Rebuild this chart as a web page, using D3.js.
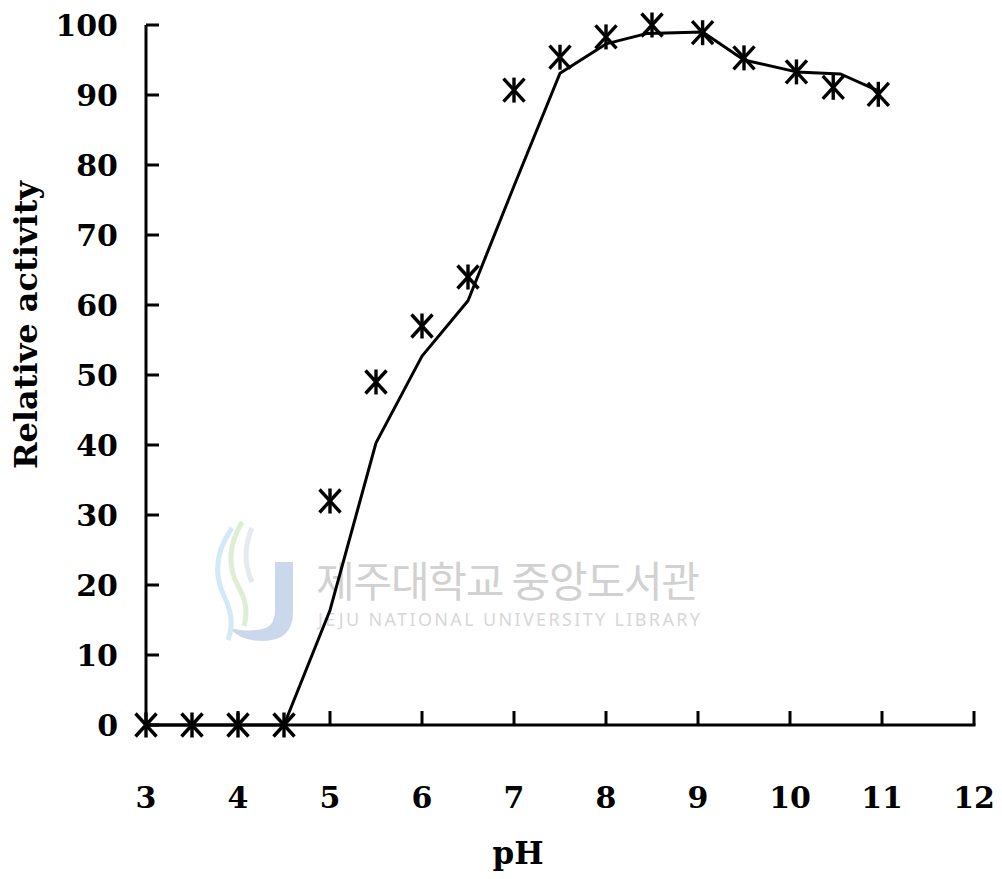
<!DOCTYPE html>
<html><head><meta charset="utf-8">
<script src="https://cdn.jsdelivr.net/npm/d3@7"></script>
<style>body{margin:0;background:#fff}svg{display:block}</style>
</head><body>
<svg id="c" width="1002" height="879"></svg>
<script>
// Data
const pointPH = [3, 3.5, 4, 4.5, 5, 5.5, 6, 6.5, 7, 7.5, 8, 8.5, 9.05, 9.5, 10.07, 10.47, 10.96];
const pointActivity = [0, 0, 0, 0, 32, 49, 57, 64, 90.7, 95.4, 98.3, 100, 98.9, 95.3, 93.3, 91.1, 90.1];
const linePH = [3, 3.5, 4, 4.5, 5, 5.5, 6, 6.5, 7, 7.5, 8, 8.45, 9.05, 9.5, 10.07, 10.55, 10.96];
const lineActivity = [0, 0, 0, 0, 16.4, 40.3, 52.7, 60.6, 77, 93.1, 97.3, 98.8, 99, 95, 93.3, 93, 90.6];
const xTicks = [3, 4, 5, 6, 7, 8, 9, 10, 11, 12];
const yTicks = [0, 10, 20, 30, 40, 50, 60, 70, 80, 90, 100];
const xTitle = "pH";
const yTitle = "Relative activity";

const svg = d3.select("#c");
const x = d3.scaleLinear().domain([3, 12]).range([146, 974]);
const y = d3.scaleLinear().domain([0, 100]).range([725, 25]);
const font = "'DejaVu Serif', serif";

// Watermark
const wm = svg.append("g").attr("opacity", 0.6);
wm.append("path").attr("d", "M275,562 L293,562 L293,612 Q293,641 262,641 Q240,641 230,628 Q250,633 266,628 Q275,624 275,610 Z").attr("fill", "#a9bfe0");
wm.append("path").attr("d", "M232,528 Q208,562 224,596 Q236,620 228,640").attr("fill", "none").attr("stroke", "#b7dcef").attr("stroke-width", 5);
wm.append("path").attr("d", "M242,522 Q222,556 238,586 Q250,606 244,626").attr("fill", "none").attr("stroke", "#c8e3b8").attr("stroke-width", 5);
wm.append("path").attr("d", "M252,528 Q240,556 252,582").attr("fill", "none").attr("stroke", "#d6dbe3").attr("stroke-width", 5);
wm.append("text").attr("x", 316).attr("y", 597).attr("font-family", "'Noto Sans CJK KR', sans-serif").attr("font-size", 42).attr("fill", "#b3b3b3").attr("textLength", 384).text("제주대학교 중앙도서관");
wm.append("text").attr("x", 318).attr("y", 626).attr("font-family", "'Noto Sans', sans-serif").attr("font-size", 18).attr("fill", "#bdbdbd").attr("textLength", 382).text("JEJU NATIONAL UNIVERSITY  LIBRARY");

// Axes
const axisG = svg.append("g").attr("stroke", "#000").attr("stroke-width", 3).attr("fill", "none");
axisG.append("line").attr("x1", x(3)).attr("x2", x(3)).attr("y1", y(100)).attr("y2", y(0));
axisG.append("line").attr("x1", x(3)).attr("x2", x(12)+1.5).attr("y1", y(0)).attr("y2", y(0));
axisG.selectAll(".yt").data(yTicks).enter().append("line")
  .attr("x1", x(3)).attr("x2", x(3) + 13).attr("y1", d => y(d)).attr("y2", d => y(d));
axisG.selectAll(".xt").data(xTicks.filter(d => d > 3)).enter().append("line")
  .attr("x1", d => x(d)).attr("x2", d => x(d)).attr("y1", y(0)).attr("y2", y(0) - 14);

svg.selectAll(".yl").data(yTicks).enter().append("text")
  .attr("x", 118).attr("y", d => y(d) + 11).attr("text-anchor", "end")
  .attr("font-family", font).attr("font-weight", "bold").attr("font-size", 30).text(d => d);
svg.selectAll(".xl").data(xTicks).enter().append("text")
  .attr("x", d => x(d)).attr("y", 808).attr("text-anchor", "middle")
  .attr("font-family", font).attr("font-weight", "bold").attr("font-size", 30).text(d => d);
svg.append("text").attr("x", 518).attr("y", 864).attr("text-anchor", "middle")
  .attr("font-family", font).attr("font-weight", "bold").attr("font-size", 31).text(xTitle);
svg.append("text").attr("transform", "translate(37,325) rotate(-90)").attr("text-anchor", "middle")
  .attr("font-family", font).attr("font-weight", "bold").attr("font-size", 32).text(yTitle);

// Line
const line = d3.line().x(d => x(d[0])).y(d => y(d[1]));
svg.append("path").datum(linePH.map((p, i) => [p, lineActivity[i]]))
  .attr("d", line).attr("fill", "none").attr("stroke", "#000").attr("stroke-width", 3).attr("stroke-linejoin", "round");

// Markers (asterisk: X + vertical bar)
const mk = svg.append("g").attr("stroke", "#000").attr("stroke-width", 3.4).attr("fill", "none");
pointPH.forEach((p, i) => {
  const cx = x(p), cy = y(pointActivity[i]);
  const g = mk.append("g");
  g.append("line").attr("x1", cx).attr("x2", cx).attr("y1", cy - 12.5).attr("y2", cy + 12.5);
  g.append("line").attr("x1", cx - 10.5).attr("x2", cx + 10.5).attr("y1", cy - 11.5).attr("y2", cy + 11.5);
  g.append("line").attr("x1", cx - 10.5).attr("x2", cx + 10.5).attr("y1", cy + 11.5).attr("y2", cy - 11.5);
});
</script>
</body></html>
